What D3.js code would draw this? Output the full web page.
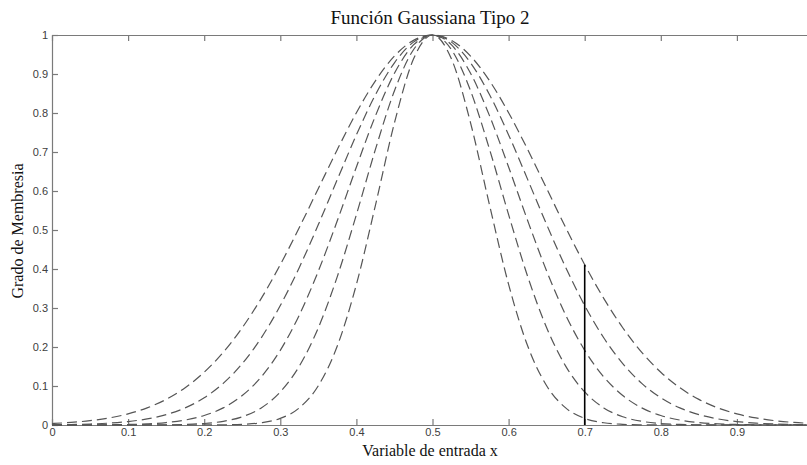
<!DOCTYPE html>
<html>
<head>
<meta charset="utf-8">
<script src="https://cdn.jsdelivr.net/npm/d3@7"></script>
<style>
  body { margin: 0; background: #fff; }
  .tick text { font-family: "Liberation Sans", Arial, sans-serif; font-size: 11px; fill: #404040; }
  .lbl { font-family: "Liberation Serif", "Times New Roman", serif; fill: #111; }
</style>
</head>
<body>
<svg width="807" height="465"></svg>
<script>
// muestras en x (0 .. 1, paso 0.025)
const xs = d3.range(41).map(i => i / 40);

// grados de membresia, cinco curvas centradas en 0.5
const curve1 = [.0039,.0066,.0111,.0181,.0286,.0439,.0657,.0956,.1353,.1863,.2494,.3247,.4111,.5063,.6065,.7066,.8007,.8825,.9460,.9862,1,
                .9862,.9460,.8825,.8007,.7066,.6065,.5063,.4111,.3247,.2494,.1863,.1353,.0956,.0657,.0439,.0286,.0181,.0111,.0066,.0039];
const curve2 = [.0006,.0013,.0025,.0048,.0088,.0156,.0267,.0439,.0698,.1067,.1574,.2236,.3062,.4041,.5139,.6298,.7439,.8467,.9287,.9817,1,
                .9817,.9287,.8467,.7439,.6298,.5139,.4041,.3062,.2236,.1574,.1067,.0698,.0439,.0267,.0156,.0088,.0048,.0025,.0013,.0006];
const curve3 = [0,.0001,.0002,.0006,.0013,.0030,.0063,.0127,.0243,.0439,.0756,.1234,.1915,.2821,.3947,.5243,.6615,.7926,.9019,.9745,1,
                .9745,.9019,.7926,.6615,.5243,.3947,.2821,.1915,.1234,.0756,.0439,.0243,.0127,.0063,.0030,.0013,.0006,.0002,.0001,0];
const curve4 = [0,0,0,0,.0001,.0002,.0005,.0015,.0039,.0094,.0211,.0439,.0847,.1510,.2494,.3812,.5394,.7066,.8570,.9622,1,
                .9622,.8570,.7066,.5394,.3812,.2494,.1510,.0847,.0439,.0211,.0094,.0039,.0015,.0005,.0002,.0001,0,0,0,0];
const curve5 = [0,0,0,0,0,0,0,0,.0001,.0004,.0017,.0057,.0169,.0439,.1007,.2030,.3604,.5633,.7748,.9382,1,
                .9382,.7748,.5633,.3604,.2030,.1007,.0439,.0169,.0057,.0017,.0004,.0001,0,0,0,0,0,0,0,0];
const curves = [curve1, curve2, curve3, curve4, curve5];

// entrada marcada
const cutX = 0.7;
const cutTop = 0.411;

const xTicks = [0, 0.1, 0.2, 0.3, 0.4, 0.5, 0.6, 0.7, 0.8, 0.9];
const yTicks = [0, 0.1, 0.2, 0.3, 0.4, 0.5, 0.6, 0.7, 0.8, 0.9, 1];

const title = "Función Gaussiana Tipo 2";
const xTitle = "Variable de entrada x";
const yTitle = "Grado de Membresia";

var svg = d3.select("svg");

var x = d3.scaleLinear().domain([0, 1]).range([52, 813]);
var y = d3.scaleLinear().domain([0, 1]).range([425, 35]);

var fmt = d => d === 0 || d === 1 ? String(d) : d3.format(".1f")(d);

// ejes
var gx = svg.append("g")
    .attr("transform", "translate(0," + y(0) + ")")
    .call(d3.axisBottom(x).tickValues(xTicks).tickFormat(fmt).tickSizeInner(-6).tickSizeOuter(0).tickPadding(3));
var gxTop = svg.append("g")
    .attr("transform", "translate(0," + y(1) + ")")
    .call(d3.axisTop(x).tickValues(xTicks).tickFormat("").tickSizeInner(-6).tickSizeOuter(0));
var gy = svg.append("g")
    .attr("transform", "translate(" + x(0) + ",0)")
    .call(d3.axisLeft(y).tickValues(yTicks).tickFormat(fmt).tickSizeInner(-6).tickSizeOuter(0).tickPadding(4));

svg.selectAll(".domain, .tick line").attr("stroke", "#7a7a7a").attr("stroke-width", 1.2);

// curvas
var line = d3.line()
    .x((d, i) => x(xs[i]))
    .y(d => y(d))
    .curve(d3.curveMonotoneX);

svg.selectAll(".mf")
    .data(curves)
  .enter().append("path")
    .attr("class", "mf")
    .attr("d", line)
    .attr("fill", "none")
    .attr("stroke", "#555")
    .attr("stroke-width", 1.2)
    .attr("stroke-dasharray", "10,5");

svg.append("line")
    .attr("x1", x(cutX)).attr("x2", x(cutX))
    .attr("y1", y(0)).attr("y2", y(cutTop))
    .attr("stroke", "#000")
    .attr("stroke-width", 1.6);

// textos
svg.append("text").attr("class", "lbl")
    .attr("x", 430).attr("y", 24)
    .attr("text-anchor", "middle").style("font-size", "19px")
    .text(title);

svg.append("text").attr("class", "lbl")
    .attr("x", 430).attr("y", 456)
    .attr("text-anchor", "middle").style("font-size", "16px")
    .text(xTitle);

svg.append("text").attr("class", "lbl")
    .attr("transform", "translate(23,231) rotate(-90)")
    .attr("text-anchor", "middle").style("font-size", "16px")
    .text(yTitle);
</script>
</body>
</html>
